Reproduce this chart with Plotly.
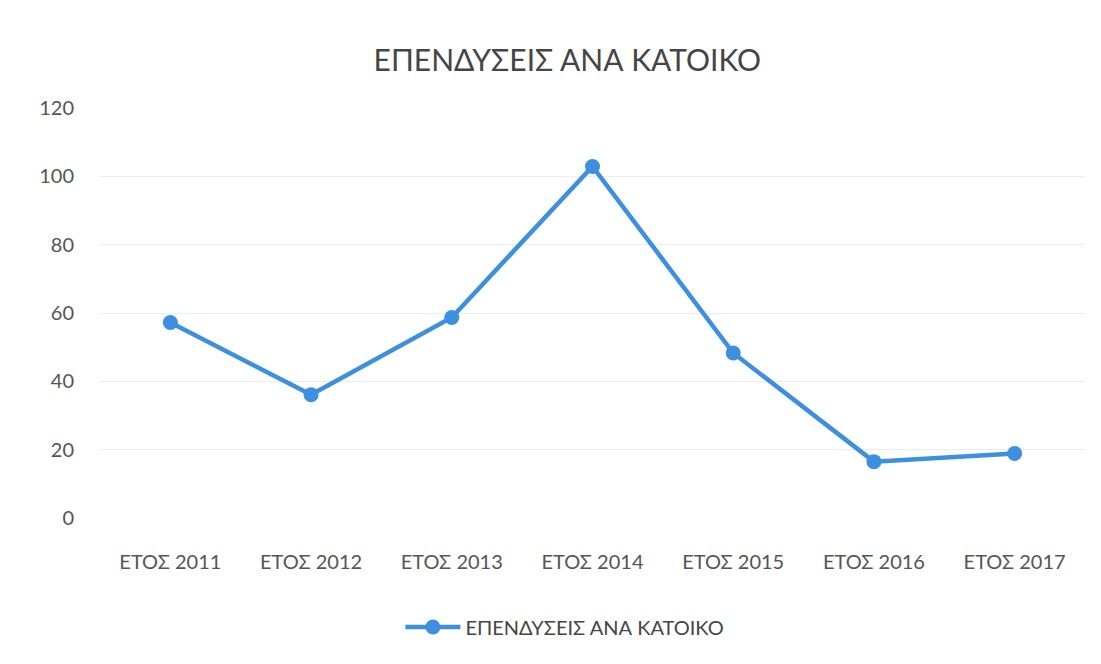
import plotly.graph_objects as go

categories = ["ΕΤΟΣ 2011", "ΕΤΟΣ 2012", "ΕΤΟΣ 2013", "ΕΤΟΣ 2014", "ΕΤΟΣ 2015", "ΕΤΟΣ 2016", "ΕΤΟΣ 2017"]
values = [57.2, 36.1, 58.7, 102.9, 48.3, 16.5, 18.9]
series_name = "ΕΠΕΝΔΥΣΕΙΣ ΑΝΑ ΚΑΤΟΙΚΟ"
y_ticks = [0, 20, 40, 60, 80, 100, 120]

blue = "#3d8fe0"
font_family = "Lato, 'Open Sans', sans-serif"

fig = go.Figure()
fig.add_trace(go.Scatter(
    x=categories, y=values, name=series_name, mode="lines+markers",
    line=dict(color=blue, width=4.5),
    marker=dict(color=blue, size=15),
))

fig.update_layout(
    width=1101, height=664,
    paper_bgcolor="white", plot_bgcolor="white",
    margin=dict(l=92, r=24, t=100, b=154),
    font=dict(family=font_family, color="#505050"),
    title=dict(text="ΕΠΕΝΔΥΣΕΙΣ ΑΝΑ ΚΑΤΟΙΚΟ", x=0.508, xanchor="center",
               y=1 - 52 / 664, yanchor="middle",
               font=dict(size=30, color="#454545", family=font_family)),
    showlegend=True,
    legend=dict(orientation="h", x=0.472, xanchor="center", y=-0.266, yanchor="middle",
                font=dict(size=20, color="#454545"), itemwidth=55),
    xaxis=dict(type="category", range=[-0.5, 6.5], showgrid=False, showline=False,
               ticks="", tickfont=dict(size=20, color="#555555"), ticklabelstandoff=30),
    yaxis=dict(range=[0, 120], tickvals=y_ticks, showgrid=True, gridcolor="#ececec",
               gridwidth=1, zeroline=False, showline=False, ticks="",
               tickfont=dict(size=20, color="#555555"), ticklabelstandoff=25),
)

fig.write_html("out.html")
